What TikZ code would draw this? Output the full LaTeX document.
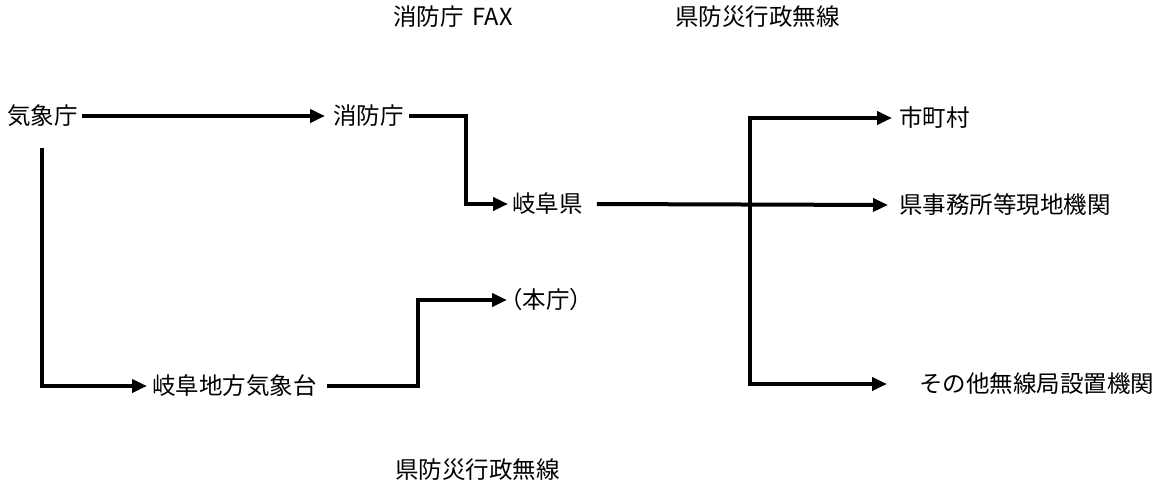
\documentclass[tikz,border=0pt]{standalone}
\usepackage{fontspec}
\setmainfont{Noto Sans CJK JP}
\usetikzlibrary{arrows.meta,calc}
\begin{document}
\begin{tikzpicture}[x=1pt,y=-1pt,
  lbl/.style={anchor=west,inner sep=0pt,font=\fontsize{23.5pt}{28pt}\selectfont},
  conn/.style={line width=4pt,line join=miter},
  arr/.style={conn,-{Triangle[length=15pt,width=13pt]}},
  darr/.style={conn,{Triangle[length=15pt,width=13pt]}-{Triangle[length=15pt,width=13pt]}}]
\useasboundingbox (0,0) rectangle (1166,490);
% labels
\node[lbl] (fax)  at (393,17)  {消防庁\kern9pt FAX};
\node[lbl] (musen1) at (675,17) {県防災行政無線};
\node[lbl] (musen2) at (395,470) {県防災行政無線};
% nodes
\node[lbl] (kisho)  at (7,116)   {気象庁};
\node[lbl] (shobo)  at (333,116) {消防庁};
\node[lbl] (gifu)   at (512,204) {岐阜県};
\node[lbl] (chiho)  at (152,386) {岐阜地方気象台};
\node[lbl] (honcho) at (499,300) {（本庁）};
\node[lbl] (shicho) at (899,118) {市町村};
\node[lbl] (kenji)  at (899,205) {県事務所等現地機関};
\node[lbl] (sonota) at (919,384) {その他無線局設置機関};
% helper coordinates
\coordinate (kv) at (42,148);
\coordinate (sx) at (466,0);
\coordinate (hx) at (418,0);
\coordinate (vx) at (750,0);
% connectors
\draw[arr] ([xshift=4pt]kisho.east) -- ([xshift=-8pt]shobo.west);
\draw[arr] ([xshift=5pt]shobo.east) -| (sx |- gifu.west) -- ([xshift=-4pt]gifu.west);
\draw[arr] ([xshift=14pt]gifu.east) -- ([xshift=-11pt]kenji.west);
\draw[darr] ([xshift=-7pt]shicho.west) -| (vx |- sonota.west) -- ([xshift=-32pt]sonota.west);
\draw[arr] (kv) |- ([xshift=-5pt]chiho.west);
\draw[arr] ([xshift=10pt]chiho.east) -| (hx |- honcho.west) -- ([xshift=8pt]honcho.west);
\end{tikzpicture}
\end{document}
